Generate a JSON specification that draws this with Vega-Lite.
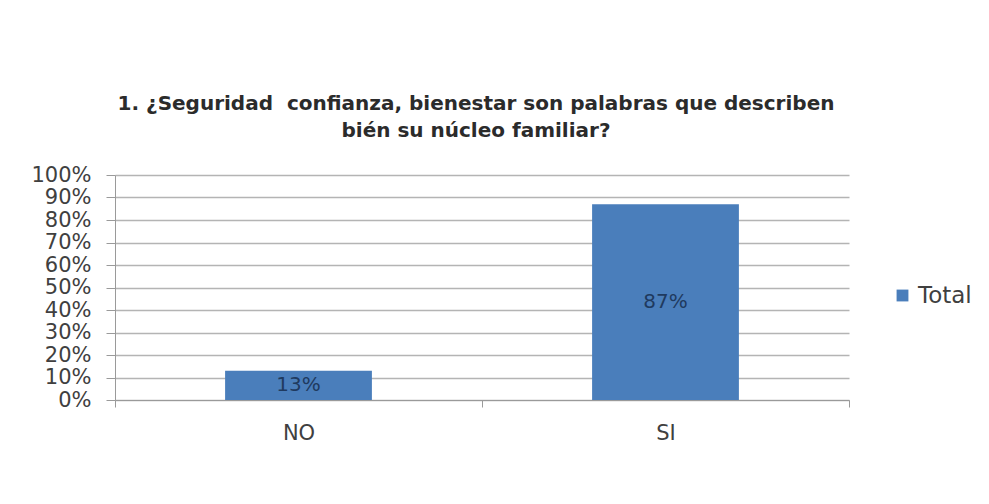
{
  "$schema": "https://vega.github.io/schema/vega-lite/v6.json",
  "autosize": {"type": "none"},
  "width": 734,
  "height": 225,
  "padding": {"left": 115, "top": 175, "right": 140, "bottom": 104},
  "background": "#ffffff",
  "title": {
    "text": ["1. ¿Seguridad\u00a0 confianza, bienestar son palabras que describen", "bién su núcleo familiar?"],
    "font": "DejaVu Sans",
    "fontSize": 20,
    "fontWeight": "bold",
    "color": "#2b2b2b",
    "anchor": "middle",
    "dx": -6,
    "offset": 23,
    "lineHeight": 27
  },
  "config": {
    "view": {"stroke": null},
    "axis": {"labelFont": "DejaVu Sans", "labelColor": "#404040", "domainColor": "#9a9a9a", "tickColor": "#9a9a9a", "gridColor": "#b4b4b4"},
    "axisY": {
      "title": null,
      "format": ".0%",
      "values": [0, 0.1, 0.2, 0.3, 0.4, 0.5, 0.6, 0.7, 0.8, 0.9, 1],
      "labelFontSize": 21,
      "labelPadding": 15,
      "labelOverlap": false,
      "labelFlush": false,
      "tickSize": 9,
      "grid": true,
      "gridWidth": 1.5
    }
  },
  "data": {
    "values": [
      {"respuesta": "NO", "porcentaje": 0.13, "serie": "Total"},
      {"respuesta": "SI", "porcentaje": 0.87, "serie": "Total"}
    ]
  },
  "transform": [{"calculate": "datum.porcentaje / 2", "as": "mitad"}],
  "encoding": {
    "x": {
      "field": "respuesta",
      "type": "nominal",
      "scale": {"paddingInner": 0, "paddingOuter": 0},
      "axis": {
        "title": null,
        "labelAngle": 0,
        "labelFontSize": 21,
        "labelPadding": 15,
        "tickBand": "extent",
        "tickSize": 7,
        "grid": false
      }
    }
  },
  "layer": [
    {
      "mark": {"type": "bar", "color": "#4a7ebb", "width": {"band": 0.4}},
      "encoding": {
        "y": {
          "field": "porcentaje",
          "type": "quantitative",
          "scale": {"domain": [0, 1]},
          "axis": {"values": [0, 0.1, 0.2, 0.3, 0.4, 0.5, 0.6, 0.7, 0.8, 0.9, 1], "format": ".0%", "title": null}
        },
        "fill": {
          "field": "serie",
          "type": "nominal",
          "scale": {"range": ["#4a7ebb"]},
          "legend": {
            "title": null,
            "orient": "none",
            "legendX": 776,
            "legendY": 109,
            "symbolType": "square",
            "symbolSize": 140,
            "labelFont": "DejaVu Sans",
            "labelFontSize": 23,
            "labelColor": "#404040",
            "labelOffset": 4
          }
        }
      }
    },
    {
      "mark": {"type": "text", "font": "DejaVu Sans", "fontSize": 20, "color": "#1f3a5f", "baseline": "middle"},
      "encoding": {
        "y": {
          "field": "mitad",
          "type": "quantitative",
          "axis": {"values": [0, 0.1, 0.2, 0.3, 0.4, 0.5, 0.6, 0.7, 0.8, 0.9, 1], "format": ".0%", "title": null}
        },
        "text": {"field": "porcentaje", "type": "quantitative", "format": ".0%"}
      }
    }
  ]
}
